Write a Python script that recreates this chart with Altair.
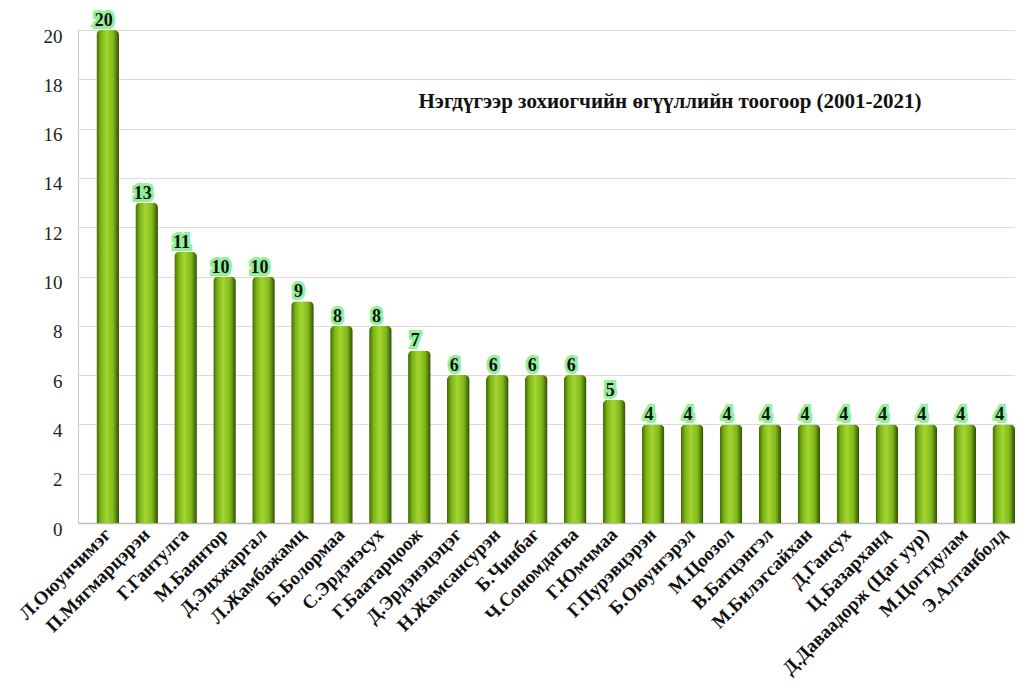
import altair as alt
import pandas as pd

names = [
    "Л.Оюунчимэг", "П.Мягмарцэрэн", "Г.Гантулга", "М.Баянтор", "Д.Энхжаргал",
    "Л.Жамбажамц", "Б.Болормаа", "С.Эрдэнэсух", "Г.Баатарцоож", "Д.Эрдэнэцэцэг",
    "Н.Жамсансурэн", "Б.Чинбаг", "Ч.Сономдагва", "Г.Юмчмаа", "Г.Пурэвцэрэн",
    "Б.Оюунгэрэл", "М.Цоозол", "В.Батцэнгэл", "М.Билэгсайхан", "Д.Гансух",
    "Ц.Базархaнд", "Д.Даваадорж (Цаг уур)", "М.Цогтдулам", "Э.Алтанболд",
]
counts = [20, 13, 11, 10, 10, 9, 8, 8, 7, 6, 6, 6, 6, 5, 4, 4, 4, 4, 4, 4, 4, 4, 4, 4]
title_text = "Нэгдүгээр зохиогчийн өгүүллийн тоогоор (2001-2021)"

df = pd.DataFrame({"name": names, "count": counts})

W, H = 937, 493

x = alt.X("name:N", sort=names,
          scale=alt.Scale(paddingInner=0.42, paddingOuter=0.236, align=1),
          axis=alt.Axis(title=None, labelAngle=-45, labelAlign="right",
                        labelBaseline="middle", labelFont="Liberation Serif",
                        labelFontWeight="bold", labelFontSize=19, labelColor="#111",
                        labelLimit=0, ticks=False, domain=True, domainColor="#bbbbbb",
                        domainWidth=1.5, labelPadding=8))
y = alt.Y("count:Q", scale=alt.Scale(domain=[0, 20], nice=False),
          axis=alt.Axis(title=None, values=list(range(0, 21, 2)), grid=True,
                        gridColor="#dcdcdc", gridWidth=1.2, labelFont="Liberation Serif",
                        labelFontSize=19, labelColor="#222", ticks=False,
                        domain=True, domainColor="#cccccc", labelPadding=16,
                        labelOffset=6))

grad = alt.Gradient(
    gradient="linear", x1=0, x2=1, y1=0, y2=0,
    stops=[
        alt.GradientStop(offset=0.0, color="#3f6a00"),
        alt.GradientStop(offset=0.2, color="#7db418"),
        alt.GradientStop(offset=0.45, color="#a3d630"),
        alt.GradientStop(offset=0.75, color="#80b81b"),
        alt.GradientStop(offset=1.0, color="#2e4d00"),
    ],
)

bars = alt.Chart(df).mark_bar(color=grad, cornerRadiusTopLeft=5,
                              cornerRadiusTopRight=5).encode(x=x, y=y)

glow = alt.Chart(df).mark_text(
    font="Liberation Serif", fontWeight="bold", fontSize=18, baseline="bottom",
    dy=0, dx=-4, stroke="#92f09a", strokeWidth=6, fill="#92f09a"
).encode(x=alt.X("name:N", sort=names), y="count:Q", text="count:Q")

labels = alt.Chart(df).mark_text(
    font="Liberation Serif", fontWeight="bold", fontSize=18, baseline="bottom",
    dy=0, dx=-4, color="#111"
).encode(x=alt.X("name:N", sort=names), y="count:Q", text="count:Q")

title = alt.Chart(pd.DataFrame({"t": [title_text]})).mark_text(
    font="Liberation Serif", fontWeight="bold", fontSize=21, color="#111",
    align="center", baseline="middle"
).encode(x=alt.value(592), y=alt.value(72), text="t:N")

chart = alt.layer(bars, glow, labels, title).properties(
    width=W, height=H,
    autosize=alt.AutoSizeParams(type="none"),
    padding={"left": 70, "top": 22, "right": 0, "bottom": 160},
).configure_view(stroke=None).configure(background="white")

chart.save("out.html", embed_options={"renderer": "svg", "actions": False})
